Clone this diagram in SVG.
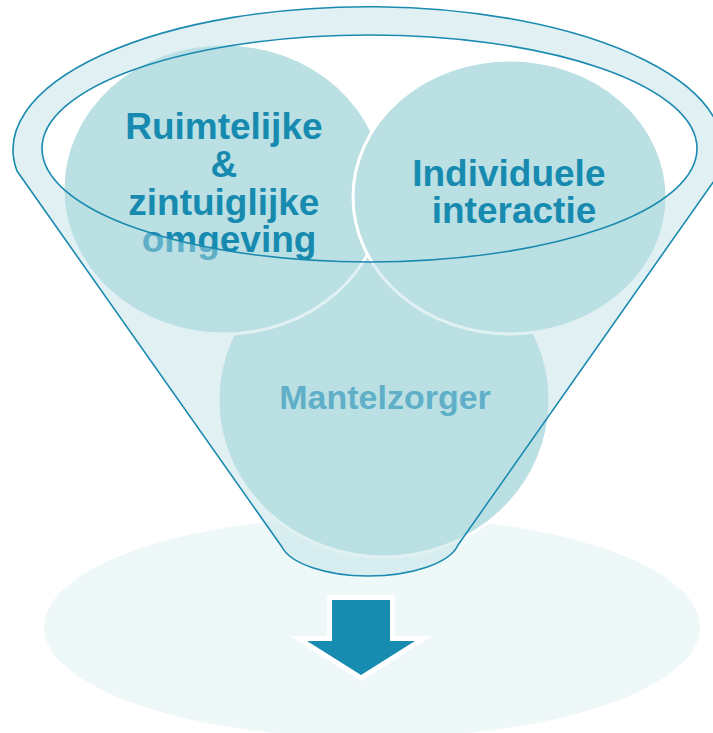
<svg xmlns="http://www.w3.org/2000/svg" width="713" height="733" viewBox="0 0 713 733">
  <style>
    .bubble { fill: #BAE0E3; stroke: #FFFFFF; stroke-width: 3; }
    .label { font-family: "Liberation Sans", Arial, sans-serif; font-weight: bold; fill: #178AB0; text-anchor: middle; }
    .veil { fill: #BAE0E3; fill-opacity: 0.44; fill-rule: evenodd; stroke: none; }
    .rim { fill: none; stroke: #1A8AB0; stroke-width: 1.6; stroke-linejoin: round; }
    .arrow { fill: #178BB0; stroke: #FFFFFF; stroke-width: 10; paint-order: stroke; stroke-linejoin: miter; stroke-miterlimit: 6; }
  </style>

  <!-- pale base ellipse under the funnel -->
  <ellipse id="base" cx="372" cy="627" rx="328" ry="111" fill="#EFF8F8"/>

  <!-- circles inside the funnel -->
  <g id="node-mantelzorger">
    <ellipse class="bubble" cx="384" cy="400" rx="166" ry="157"/>
    <text class="label" x="385" y="409" font-size="34">Mantelzorger</text>
  </g>

  <g id="node-ruimtelijke">
    <ellipse class="bubble" cx="224" cy="189" rx="161" ry="145"/>
    <text class="label" font-size="37">
      <tspan x="229" y="139">Ruimtelijke</tspan>
      <tspan x="229" y="177">&amp;</tspan>
      <tspan x="229" y="215">zintuiglijke</tspan>
      <tspan x="229" y="252">omgeving</tspan>
    </text>
  </g>

  <g id="node-individuele">
    <ellipse class="bubble" cx="510" cy="197" rx="157" ry="137"/>
    <text class="label" font-size="37">
      <tspan x="514" y="186">Individuele</tspan>
      <tspan x="514" y="223">interactie</tspan>
    </text>
  </g>

  <!-- funnel: translucent body with the mouth left open -->
  <g id="funnel">
    <path class="veil" d="M17,171 A355,143 0 1,1 716,178 L458,545 C450,563 412,576 368,576 C325,576 290,563 282,547 Z
                          M42,148.5 A327.5,113.5 0 1,0 697,148.5 A327.5,113.5 0 1,0 42,148.5 Z"/>
    <path class="rim" d="M17,171 A355,143 0 1,1 716,178 L458,545 C450,563 412,576 368,576 C325,576 290,563 282,547 Z"/>
    <ellipse class="rim" cx="369.5" cy="148.5" rx="327.5" ry="113.5"/>
  </g>

  <!-- output arrow -->
  <g id="connectors">
    <path class="arrow" d="M332,600 L390,600 L390,641 L415,641 L361,675 L307,641 L332,641 Z"/>
  </g>
</svg>
